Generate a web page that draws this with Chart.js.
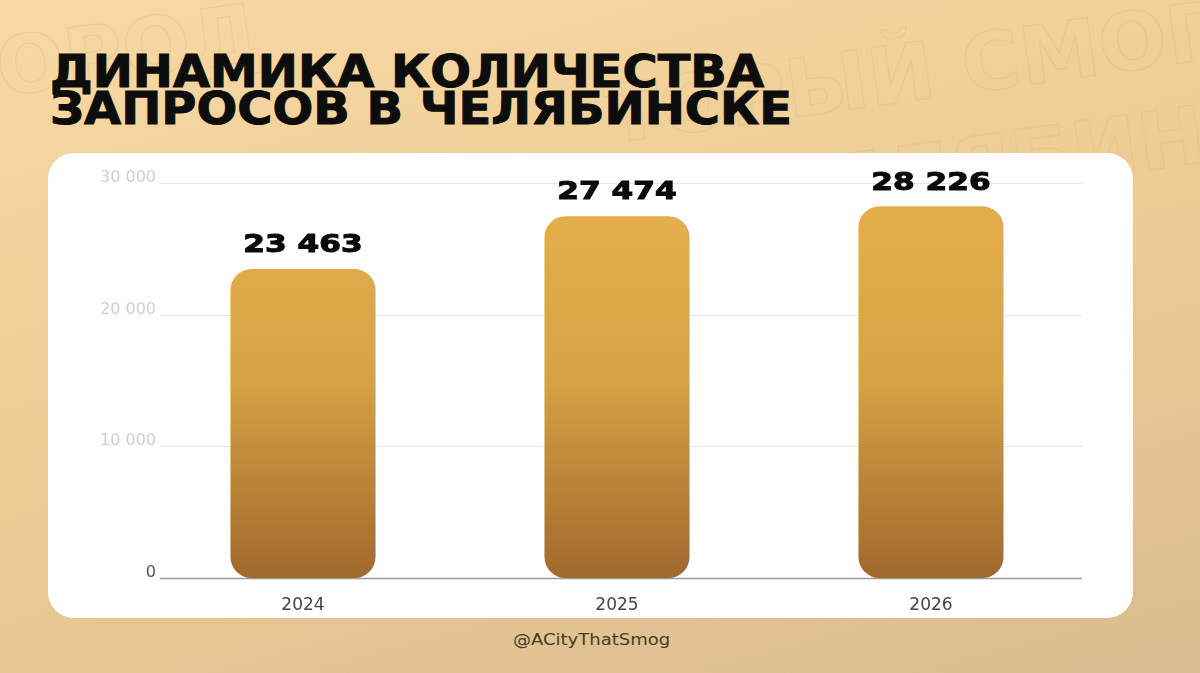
<!DOCTYPE html>
<html>
<head>
<meta charset="utf-8">
<script src="https://cdn.jsdelivr.net/npm/chart.js@4.4.0/dist/chart.umd.min.js"></script>
<style>
  html, body { margin: 0; padding: 0; }
  body {
    width: 1200px; height: 673px; overflow: hidden; position: relative;
    background: linear-gradient(165deg, #f7d9a4 0%, #eecd95 45%, #d9bd90 100%);
    font-family: "DejaVu Sans", sans-serif;
  }
  .wm {
    position: absolute; font-weight: bold; font-size: 80px; color: transparent;
    -webkit-text-stroke: 1.2px rgba(205, 165, 105, 0.2); white-space: nowrap;
    transform: rotate(-8deg); transform-origin: left top;
  }
  #title {
    position: absolute; left: 50px; top: 53px;
    font-weight: bold; font-size: 44px; line-height: 37px; color: #0d0d0d;
    transform: scaleX(1.09); transform-origin: left top; white-space: nowrap;
    -webkit-text-stroke: 1px #0d0d0d;
  }
  #card {
    position: absolute; left: 48px; top: 153px; width: 1085px; height: 465px;
    background: #fff; border-radius: 26px;
  }
  #footer {
    position: absolute; left: 513px; top: 631px; font-size: 15px; color: #4a3b26;
    transform: scaleX(1.2); transform-origin: left top;
  }
</style>
</head>
<body>
<div class="wm" style="left:600px; top:70px;">ТОРЫЙ СМОГ</div>
<div class="wm" style="left:760px; top:150px;">ЧЕЛЯБИНСК</div>
<div class="wm" style="left:-60px; top:30px;">ГОРОД</div>
<div id="title">ДИНАМИКА КОЛИЧЕСТВА<br>ЗАПРОСОВ В ЧЕЛЯБИНСКЕ</div>
<div id="card"><canvas id="myChart" width="1085" height="465"></canvas></div>
<div id="footer">@ACityThatSmog</div>
<script>
'use strict'
let years = ['2024', '2025', '2026'];
let requests = [23463, 27474, 28226];
let yTicks = [0, 10000, 20000, 30000];

function fmt(v) {
    return String(v).replace(/\B(?=(\d{3})+(?!\d))/g, ' ');
}

// grid lines + y labels sit a bit inside the category band, so drawn by hand from the y scale
let gridLines = {
    id: 'gridLines',
    beforeDatasetsDraw(chart) {
        let ctx = chart.ctx;
        let y = chart.scales.y;
        ctx.save();
        ctx.font = '16px "DejaVu Sans"';
        ctx.textAlign = 'right';
        ctx.textBaseline = 'bottom';
        yTicks.forEach(function (v) {
            let py = Math.round(y.getPixelForValue(v)) + 0.5;
            ctx.strokeStyle = v === 0 ? '#9c9c9c' : '#e4e4e4';
            ctx.lineWidth = v === 0 ? 1.5 : 1.2;
            ctx.beginPath();
            ctx.moveTo(112, py);
            ctx.lineTo(1034, py);
            ctx.stroke();
            ctx.fillStyle = v === 0 ? '#555' : '#cfcfcf';
            ctx.fillText(fmt(v), 108, py + 2);
        });
        ctx.restore();
    }
};

let valueLabels = {
    id: 'valueLabels',
    afterDatasetsDraw(chart) {
        let ctx = chart.ctx;
        let meta = chart.getDatasetMeta(0);
        ctx.save();
        ctx.fillStyle = '#0a0a0a';
        ctx.strokeStyle = '#0a0a0a';
        ctx.lineWidth = 1;
        ctx.font = 'bold 24px "DejaVu Sans"';
        ctx.textAlign = 'center';
        ctx.textBaseline = 'bottom';
        meta.data.forEach(function (bar, i) {
            ctx.save();
            ctx.translate(bar.x, bar.y - 11);
            ctx.scale(1.3, 1);
            ctx.fillText(fmt(requests[i]), 0, 0);
            ctx.strokeText(fmt(requests[i]), 0, 0);
            ctx.restore();
        });
        ctx.restore();
    }
};

let ctx = document.getElementById('myChart').getContext('2d');
let myChart = new Chart(ctx, {
    type: 'bar',
    data: {
        labels: years,
        datasets: [{
            data: requests,
            backgroundColor: function (c) {
                let area = c.chart.chartArea;
                if (!area) return '#d9a246';
                let g = c.chart.ctx.createLinearGradient(0, area.top, 0, area.bottom);
                g.addColorStop(0, '#e6b04c');
                g.addColorStop(0.5, '#d6a244');
                g.addColorStop(1, '#a0692d');
                return g;
            },
            borderRadius: 21,
            borderSkipped: false,
            categoryPercentage: 1,
            barPercentage: 0.462
        }]
    },
    options: {
        responsive: false,
        animation: false,
        layout: { padding: { left: 0, right: 45, top: 30, bottom: 0 } },
        plugins: { legend: { display: false }, tooltip: { enabled: false } },
        scales: {
            x: {
                grid: { display: false },
                border: { display: false },
                ticks: { color: '#444', font: { family: 'DejaVu Sans', size: 17 }, padding: 9 },
                afterFit: function (s) { s.height = 40; }
            },
            y: {
                min: 0,
                max: 30000,
                afterBuildTicks: function (s) { s.ticks = yTicks.map(function (v) { return { value: v }; }); },
                afterFit: function (s) { s.width = 98; },
                border: { display: false },
                grid: { display: false, drawTicks: false },
                ticks: { display: false }
            }
        }
    },
    plugins: [gridLines, valueLabels]
});
</script>
</body>
</html>
